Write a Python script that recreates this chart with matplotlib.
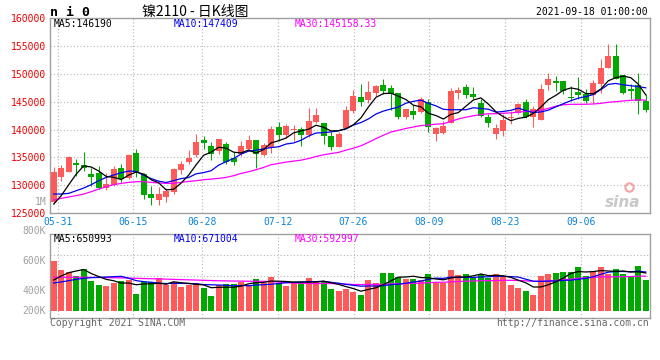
import numpy as np
import pandas as pd
import matplotlib
matplotlib.use("Agg")
import matplotlib.pyplot as plt

# ---------------- data ----------------
opens = [126960, 131430, 132440, 133990, 133630, 132020, 132140, 129520, 130120, 133100,
         131250, 135770, 132020, 128510, 127380, 127980, 128870, 132800, 134170, 135420,
         138100, 137020, 136070, 137380, 134820, 135600, 136430, 138100, 135480, 136610,
         140420, 138930, 139940, 140180, 139050, 141430, 141250, 138870, 136900, 140240,
         143270, 145770, 145240, 146490, 147920, 147380, 146490, 142260, 143270, 143150,
         144940, 139170, 139290, 141250, 146550, 147560, 146310, 144700, 142320, 139170,
         139760, 142080, 142920, 144940, 142260, 141730, 147920, 148630, 148630, 145830,
         146730, 146310, 146190, 148090, 150950, 153090, 149700, 147200, 147920, 145120]
highs = [133330, 133630, 135300, 134700, 135950, 133040, 133450, 132140, 133450, 133750,
         135600, 136490, 132140, 129940, 129640, 129520, 133040, 134400, 136310, 139170,
         138870, 137680, 138390, 137680, 135890, 137920, 138990, 138100, 137560, 140540,
         141370, 140950, 140770, 140480, 143810, 143930, 141250, 139580, 139580, 144230,
         147020, 148090, 148630, 147920, 148990, 147920, 146490, 143690, 144340, 145770,
         145420, 140480, 141550, 147500, 147680, 148090, 147680, 145540, 142800, 141070,
         142860, 143330, 144700, 145420, 144230, 148090, 150060, 149580, 148630, 147800,
         149460, 147200, 148810, 152680, 155240, 155240, 149700, 148090, 150180, 146310]
lows = [126670, 130830, 132320, 131730, 132620, 129940, 129400, 129230, 129940, 130660,
        131130, 131430, 127560, 126550, 126550, 126960, 128450, 132020, 133810, 135000,
        136490, 134520, 135600, 133810, 133630, 135300, 136070, 133100, 135300, 135770,
        137860, 138570, 137980, 137080, 138690, 141130, 137440, 136310, 136900, 140240,
        143040, 144230, 144820, 146010, 146310, 143510, 141840, 141840, 141840, 142920,
        139580, 137980, 139170, 141130, 145420, 145590, 145420, 142260, 140480, 138390,
        138750, 141070, 142740, 142140, 140480, 141730, 147020, 146840, 146310, 145060,
        145420, 144700, 144820, 146490, 150950, 148990, 146310, 145420, 142740, 143150]
closes = [132440, 133100, 135120, 133630, 133160, 131430, 129520, 130240, 132860, 131130,
          135420, 132320, 128330, 127800, 128450, 129050, 132920, 133810, 134880, 137740,
          137620, 135600, 138270, 134110, 134110, 137020, 138100, 135600, 137200, 140060,
          138990, 140540, 140180, 138990, 141550, 142560, 138750, 136900, 139170, 143450,
          146010, 144940, 146670, 147740, 146840, 146310, 142260, 143690, 142620, 145420,
          140480, 140300, 140540, 146840, 147020, 146190, 145830, 142440, 141250, 140240,
          141670, 142320, 144520, 142260, 143630, 147320, 148990, 148390, 146840, 145650,
          146190, 145120, 148270, 150950, 153090, 148990, 146490, 146900, 145120, 143510]
volume_k = [860, 705, 671, 608, 722, 516, 447, 430, 487, 516,
            533, 292, 499, 499, 568, 447, 499, 413, 453, 482,
            396, 258, 447, 470, 470, 499, 453, 550, 487, 585,
            487, 430, 499, 499, 568, 499, 499, 378, 344, 378,
            327, 275, 533, 482, 654, 654, 585, 550, 550, 533,
            636, 482, 482, 705, 619, 636, 585, 636, 568, 636,
            602, 447, 396, 344, 275, 602, 636, 654, 671, 671,
            757, 602, 688, 757, 636, 722, 636, 602, 774, 533]

# moving-average values before a full window is available
ma5_head = [126670, 128160, 130120, 132020]
ma10_head = [128450, 128450, 128570, 129050, 129520, 130120, 130830, 131430, 131850]
ma30_head = [127380, 127680, 127920, 128160, 128450, 128870, 129340, 129760, 130120, 130360,
             130540, 130660, 130660, 130540, 130420, 130360, 130360, 130540, 130710, 130830,
             131010, 131130, 131250, 131430, 131730, 132140, 132440, 132800, 133210]
vma5_head = [533, 602, 659, 688]
vma10_head = [482, 499, 522, 545, 562, 573, 579, 585, 590]
vma30_head = [580, 580, 580, 580, 580, 578, 576, 574, 572, 570,
              566, 562, 558, 555, 552, 548, 544, 540, 536, 532,
              528, 524, 520, 518, 516, 514, 512, 511, 510]

date_labels = ["05-31", "06-15", "06-28", "07-12", "07-26", "08-09", "08-23", "09-06"]
date_index = [1, 11, 20, 30, 40, 50, 60, 70]
price_ticks = [125000, 130000, 135000, 140000, 145000, 150000, 155000, 160000]
vol_labels = ["800K", "600K", "400K", "200K"]

title_code = "n i 0"
title_text = "镍2110 - 日K线图"
stamp = "2021-09-18 01:00:00"
ma_main_labels = ["MA5:146190", "MA10:147409", "MA30:145158.33"]
ma_vol_labels = ["MA5:650993", "MA10:671004", "MA30:592997"]

# ---------------- helpers ----------------
def moving(values, n, head):
    s = pd.Series(values, dtype=float).rolling(n).mean().to_numpy()
    s[:len(head)] = head
    return s

RED = "#ff5a5a"
GREEN = "#00a800"
GRID = "#b4b4b4"
SPINE = "#a0a0a0"
MONO = "DejaVu Sans Mono"

o = np.array(opens, float); h = np.array(highs, float)
l = np.array(lows, float); c = np.array(closes, float)
v = np.array(volume_k, float)
n = len(c)
x = np.arange(n)
colors = [RED if cc >= oo else GREEN for oo, cc in zip(o, c)]

ma5 = moving(c, 5, ma5_head)
ma10 = moving(c, 10, ma10_head)
ma30 = moving(c, 30, ma30_head)
vma5 = moving(v, 5, vma5_head)
vma10 = moving(v, 10, vma10_head)
vma30 = moving(v, 30, vma30_head)

W, H = 660, 360
fig = plt.figure(figsize=(6.6, 3.6), dpi=100)
fig.patch.set_facecolor("white")

def ax_rect(l_px, t_px, r_px, b_px):
    return [l_px / W, 1 - b_px / H, (r_px - l_px) / W, (b_px - t_px) / H]

ax = fig.add_axes(ax_rect(50, 17.8, 649.5, 213.3))
axv = fig.add_axes(ax_rect(50, 234.3, 649.5, 318.3))

grid_pos = [k * n / (n - 1) - 0.5 for k in date_index]

for a in (ax, axv):
    a.set_xlim(-0.5, n - 0.5)
    for s in a.spines.values():
        s.set_color(SPINE)
        s.set_linewidth(1.0)
    for gx in grid_pos:
        a.axvline(gx, color=GRID, lw=0.8, ls=(0, (1, 2)), zorder=0)
    a.tick_params(length=0)

# ---- main price panel ----
ax.set_ylim(125000, 160000)
for py in price_ticks[1:-1]:
    ax.axhline(py, color=GRID, lw=0.8, ls=(0, (1, 2)), zorder=0)

body_bottom = np.minimum(o, c)
body_h = np.maximum(np.abs(c - o), 130)
ax.vlines(x, l, h, colors=colors, lw=0.75, zorder=2)
ax.bar(x, body_h, bottom=body_bottom, width=0.8, color=colors, linewidth=0, zorder=3)

ax.plot(x, ma30, color="#ff00ff", lw=0.9, zorder=4)
ax.plot(x, ma10, color="#0000ee", lw=0.9, zorder=4)
ax.plot(x, ma5, color="black", lw=0.9, zorder=5)

ax.set_yticks(price_ticks)
ax.set_yticklabels([str(t) for t in price_ticks], fontfamily=MONO, fontsize=7, color="#ee0000")
ax.tick_params(axis="y", pad=3)
ax.set_xticks(grid_pos)
ax.set_xticklabels(date_labels, fontfamily=MONO, fontsize=7, color="#0a84d8")
ax.tick_params(axis="x", pad=3)

ax.text(-0.006, 0.06, "1M", transform=ax.transAxes, ha="right", va="center",
        fontfamily=MONO, fontsize=7, color="#a0a0a0")

# sina watermark
ax.text(0.985, 0.055, "sina", transform=ax.transAxes, ha="right", va="center",
        fontsize=11, fontweight="bold", fontstyle="italic", color="#c8c8c8", zorder=1)
ax.plot([0.965], [0.135], marker="o", ms=6, mfc="none", mec="#f4a4a4", mew=1.5,
        transform=ax.transAxes, zorder=1)

ma_x = [54, 174, 295]
ma_cols = ["black", "#0000ee", "#ff00ff"]
for lab, xp, col in zip(ma_main_labels, ma_x, ma_cols):
    fig.text(xp / W, 1 - 24 / H, lab, fontfamily=MONO, fontsize=7, color=col,
             ha="left", va="center")

# ---- volume panel ----
vtop = (311 - 234.3) * 17.2
vbot = -(318.3 - 311) * 17.2
axv.set_ylim(vbot, vtop)
for frac in (0.25, 0.5, 0.75):
    axv.hlines(frac, 0, 1, transform=axv.transAxes, color=GRID, lw=0.8,
               ls=(0, (1, 2)), zorder=0)
axv.bar(x, v, bottom=0, width=0.8, color=colors, linewidth=0, zorder=2)
axv.plot(x, vma30, color="#ff00ff", lw=0.9, zorder=3)
axv.plot(x, vma10, color="#0000ee", lw=0.9, zorder=3)
axv.plot(x, vma5, color="black", lw=0.9, zorder=4)
axv.set_yticks([])
axv.set_xticks([])

vol_label_y = [230.7, 261, 291, 311]
for lab, yp in zip(vol_labels, vol_label_y):
    fig.text(46 / W, 1 - yp / H, lab, fontfamily=MONO, fontsize=7, color="#a0a0a0",
             ha="right", va="center")
for lab, xp, col in zip(ma_vol_labels, ma_x, ma_cols):
    fig.text(xp / W, 1 - 238.5 / H, lab, fontfamily=MONO, fontsize=7, color=col,
             ha="left", va="center")

# ---- header / footer ----
fig.text(50 / W, 1 - 12 / H, title_code, fontfamily=MONO, fontsize=9.5, fontweight="bold",
         color="black", ha="left", va="center")
fig.text(195 / W, 1 - 12 / H, title_text, family=["Noto Sans CJK SC", "DejaVu Sans"],
         fontsize=10, color="black", ha="center", va="center")
fig.text(648 / W, 1 - 12 / H, stamp, fontfamily=MONO, fontsize=7, color="black",
         ha="right", va="center")
fig.text(50 / W, 1 - 323 / H, "Copyright 2021 SINA.COM", fontfamily=MONO, fontsize=7,
         color="#666666", ha="left", va="center")
fig.text(649 / W, 1 - 323 / H, "http://finance.sina.com.cn", fontfamily=MONO, fontsize=7,
         color="#666666", ha="right", va="center")

fig.savefig("out.png", dpi=100, facecolor="white")
